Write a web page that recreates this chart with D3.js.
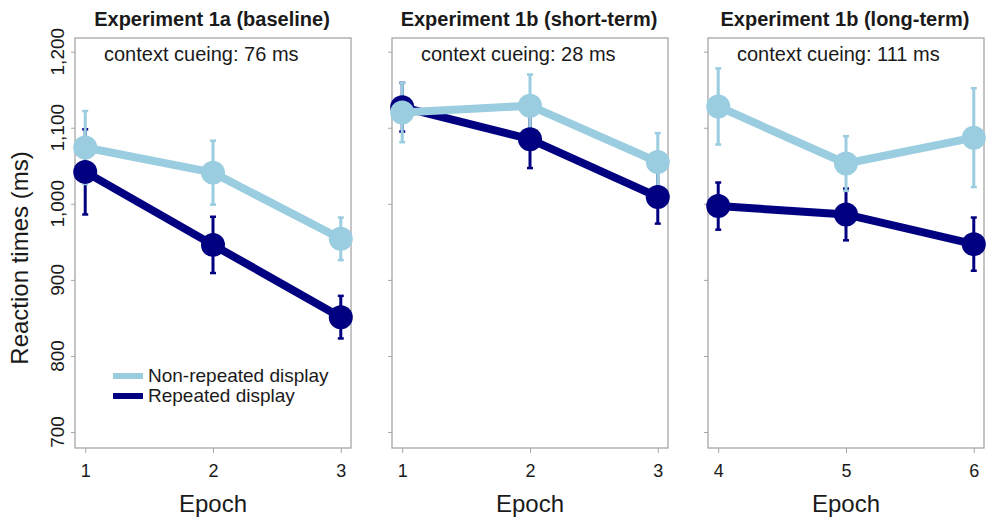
<!DOCTYPE html>
<html>
<head>
<meta charset="utf-8">
<script src="https://cdn.jsdelivr.net/npm/d3@7"></script>
<style>
	body { margin: 0; background: #fff; }
	svg text { font-family: "Liberation Sans", Arial, sans-serif; fill: #1a1a1a; }
</style>
</head>
<body>
<svg id="chart" width="987" height="522"></svg>
<script>

var titles = ["Experiment 1a (baseline)", "Experiment 1b (short-term)", "Experiment 1b (long-term)"];
var cueing = ["context cueing: 76 ms", "context cueing: 28 ms", "context cueing: 111 ms"];
var epochs = [[1, 2, 3], [1, 2, 3], [4, 5, 6]];

var nonRepeated = [[1074, 1041, 954], [1120, 1129, 1055], [1128, 1053, 1087]];
var nonRepeatedErr = [[48, 42, 28], [39, 41, 38], [50, 36, 65]];
var repeated = [[1042, 946, 851], [1127, 1085, 1009], [997, 986, 947]];
var repeatedErr = [[56, 37, 28], [32, 38, 35], [31, 34, 35]];

var yTicks = [700, 800, 900, 1000, 1100, 1200];
var legendLabels = ["Non-repeated display", "Repeated display"];

var light = "#9acde0", dark = "#000080", axisCol = "#a6a6a6";

var svg = d3.select("#chart");
var [ pT, pW, pH ] = [ 38, 276, 410 ];		// panel top, width, height
var lefts = [75, 392, 708];

var y = d3.scaleLinear([679, 1218], [pT + pH, pT]);

titles.forEach((t, i) => {

	var x0 = lefts[i];
	var ep = epochs[i];
	var x = d3.scaleLinear([ep[0] - 0.08, ep[2] + 0.08], [x0, x0 + pW]);
	var g = svg.append("g");

	// axes
	var ya = g.append("g")
		.attr("transform", `translate(${x0}, 0)`)
		.call(d3.axisLeft(y).tickValues(yTicks).tickSize(4));
	var xa = g.append("g")
		.attr("transform", `translate(0, ${pT + pH})`)
		.call(d3.axisBottom(x).tickValues(ep).tickSize(5).tickFormat(d3.format("d")));
	[ya, xa].forEach(a => {
		a.select(".domain").remove();
		a.selectAll("line").attr("stroke", axisCol);
	});
	ya.selectAll("text").remove();
	xa.selectAll("text")
		.attr("y", 29).attr("dy", 0)
		.style("font-size", "18px").attr("fill", "#1a1a1a");

	// rotated y labels, only on the first panel
	if (i === 0) {
		g.append("g").selectAll("text").data(yTicks).join("text")
			.attr("transform", d => `translate(${x0 - 11}, ${y(d)}) rotate(-90)`)
			.attr("text-anchor", "middle")
			.style("font-size", "19px")
			.text(d3.format(","));
	}

	g.append("rect")
		.attr("x", x0).attr("y", pT).attr("width", pW).attr("height", pH)
		.attr("fill", "none").attr("stroke", axisCol).attr("stroke-width", 1.3);

	g.append("text")
		.attr("x", x0 + pW / 2 - 1).attr("y", 26)
		.attr("text-anchor", "middle")
		.style("font-size", "20px").style("font-weight", "bold")
		.text(t);

	g.append("text")
		.attr("x", x0 + 29).attr("y", 61)
		.style("font-size", "20px")
		.text(cueing[i]);

	g.append("text")
		.attr("x", x0 + pW / 2).attr("y", 512)
		.attr("text-anchor", "middle")
		.style("font-size", "24px")
		.text("Epoch");

	var series = [
		{ vals: repeated[i], err: repeatedErr[i], col: dark },
		{ vals: nonRepeated[i], err: nonRepeatedErr[i], col: light },
	];

	// error bars first
	series.forEach(s => {
		var eb = g.append("g").selectAll("g").data(s.vals).join("g");
		eb.append("line")
			.attr("x1", (d, j) => x(ep[j])).attr("x2", (d, j) => x(ep[j]))
			.attr("y1", (d, j) => y(d - s.err[j])).attr("y2", (d, j) => y(d + s.err[j]))
			.attr("stroke", s.col).attr("stroke-width", 3);
		[-1, 1].forEach(k => {
			eb.append("line")
				.attr("x1", (d, j) => x(ep[j]) - 3).attr("x2", (d, j) => x(ep[j]) + 3)
				.attr("y1", (d, j) => y(d + k * s.err[j])).attr("y2", (d, j) => y(d + k * s.err[j]))
				.attr("stroke", s.col).attr("stroke-width", 2.5);
		});
	});

	series.forEach(s => {
		g.append("path")
			.datum(s.vals)
			.attr("d", d3.line().x((d, j) => x(ep[j])).y(d => y(d)))
			.attr("fill", "none").attr("stroke", s.col).attr("stroke-width", 8);
		g.append("g").selectAll("circle").data(s.vals).join("circle")
			.attr("cx", (d, j) => x(ep[j])).attr("cy", d => y(d))
			.attr("r", 12).attr("fill", s.col);
	});

	if (i === 0) {
		var lg = g.append("g");
		[light, dark].forEach((c, k) => {
			lg.append("line")
				.attr("x1", 113).attr("x2", 143)
				.attr("y1", 376 + k * 20).attr("y2", 376 + k * 20)
				.attr("stroke", c).attr("stroke-width", 6);
			lg.append("text")
				.attr("x", 148).attr("y", 376 + k * 20).attr("dy", "0.33em")
				.style("font-size", "19px")
				.text(legendLabels[k]);
		});
	}

});

svg.append("text")
	.attr("transform", `translate(28, 258) rotate(-90)`)
	.attr("text-anchor", "middle")
	.style("font-size", "24px")
	.text("Reaction times (ms)");

</script>
</body>
</html>
